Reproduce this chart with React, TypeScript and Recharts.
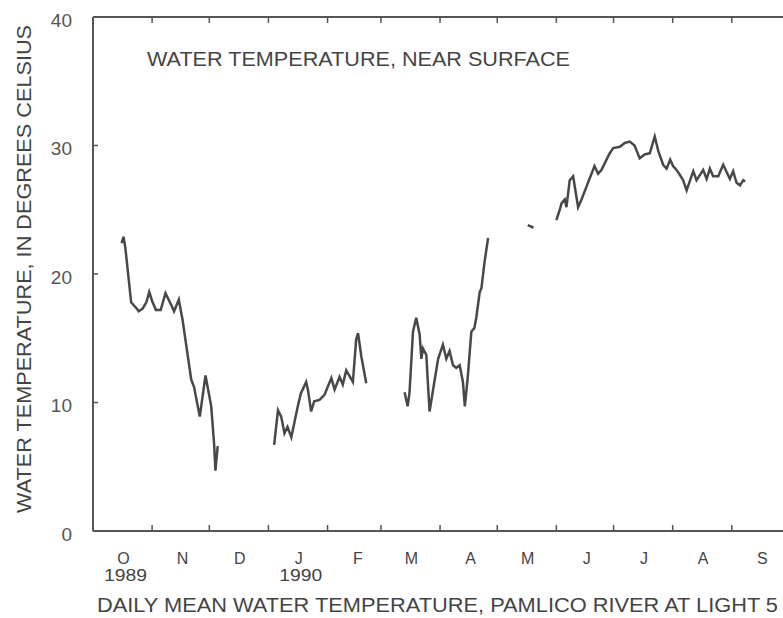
import { LineChart, Line, XAxis, YAxis } from "recharts";

const MONTHS = ["O", "N", "D", "J", "F", "M", "A", "M", "J", "J", "A", "S"];
const MONTH_START = [0, 31, 61, 92, 123, 151, 182, 212, 243, 273, 304, 335, 365];
const YEAR_LABELS: Record<number, string> = { 0: "1989", 3: "1990" };
const Y_TICKS = [0, 10, 20, 30, 40];

// days counted from 1 Oct 1989, temperatures in deg C
const OCT_DEC_DAYS = [15, 16, 17, 20, 23, 24, 26, 28, 29.5, 31, 33, 35.5, 38, 41, 42.5, 45, 47, 51.5, 53, 56, 59, 62, 63.5, 64.2, 65.4];
const OCT_DEC_TEMPS = [22.4, 22.9, 22.0, 17.8, 17.3, 17.1, 17.3, 17.8, 18.6, 17.9, 17.2, 17.2, 18.5, 17.6, 17.1, 18.0, 16.4, 11.8, 11.2, 8.9, 12.1, 9.7, 6.8, 4.7, 6.6];

const JAN_FEB_DAYS = [95, 97, 98.7, 100.4, 102, 104, 105.7, 107.4, 109, 111.8, 112.7, 114.4, 116, 118.8, 121.4, 125, 126.7, 129.3, 131, 132.8, 136.3, 138, 139, 140.7, 143.3];
const JAN_FEB_TEMPS = [6.7, 9.4, 8.9, 7.6, 8.1, 7.3, 8.5, 9.7, 10.7, 11.6, 11.0, 9.3, 10.1, 10.2, 10.6, 11.9, 11.0, 12.0, 11.4, 12.5, 11.6, 14.9, 15.4, 13.6, 11.5];

const MAR_APR_DAYS = [163.4, 165, 166, 167.8, 169.5, 171.3, 172.2, 173, 174.8, 175.6, 176.5, 179, 181, 183.5, 185.3, 187, 188.8, 190.5, 192.3, 194, 195, 196.6, 198.4, 200, 201, 202.8, 203.7, 205.4, 207.2];
const MAR_APR_TEMPS = [10.8, 9.7, 10.8, 15.5, 16.6, 15.3, 13.4, 14.2, 13.7, 11.6, 9.3, 11.6, 13.4, 14.5, 13.4, 14.0, 12.9, 12.7, 12.9, 11.6, 9.7, 12.1, 15.5, 15.8, 16.6, 18.6, 18.9, 21.0, 22.8];

const MAY_DAYS = [228, 229.5, 231];
const MAY_TEMPS = [23.8, 23.7, 23.6];

const JUN_SEP_DAYS = [243, 244.8, 245.7, 247.4, 248.3, 250, 251.8, 254.4, 256.2, 258.8, 263, 264.9, 266.7, 269.3, 271, 272.8, 276.3, 278.9, 281.5, 284, 286.7, 289.3, 292, 294.6, 296.4, 299, 300.8, 302.7, 304.2, 306, 307.8, 309.5, 311.3, 314.8, 316.5, 320, 321.8, 323.5, 325.2, 327.9, 330.5, 334, 335.7, 337.5, 339.3, 341, 342];
const JUN_SEP_TEMPS = [24.2, 25.0, 25.5, 25.8, 25.2, 27.3, 27.6, 25.2, 25.8, 26.8, 28.4, 27.8, 28.1, 28.9, 29.4, 29.8, 29.9, 30.2, 30.3, 30.0, 29.0, 29.3, 29.4, 30.7, 29.6, 28.5, 28.2, 28.9, 28.4, 28.1, 27.7, 27.3, 26.5, 28.0, 27.3, 28.1, 27.4, 28.2, 27.6, 27.6, 28.5, 27.4, 28.0, 27.1, 26.9, 27.3, 27.2];

const SEGMENTS = [
  [OCT_DEC_DAYS, OCT_DEC_TEMPS],
  [JAN_FEB_DAYS, JAN_FEB_TEMPS],
  [MAR_APR_DAYS, MAR_APR_TEMPS],
  [MAY_DAYS, MAY_TEMPS],
  [JUN_SEP_DAYS, JUN_SEP_TEMPS],
];

// one table, with a null row between the record pieces so the line breaks
const data: { day: number; temp: number | null }[] = [];
SEGMENTS.forEach(([days, temps], i) => {
  if (i > 0) data.push({ day: (data[data.length - 1].day + days[0]) / 2, temp: null });
  days.forEach((d, j) => data.push({ day: d, temp: temps[j] }));
});

const FONT = "'Liberation Sans', Arial, Helvetica, sans-serif";
const INK = "#444";
const FRAME = "#555";

const labelTicks = MONTHS.map((_, i) => MONTH_START[i] + 17);
const edgeTicks = MONTH_START.slice(1, 12);
const bottomTicks = [...edgeTicks, ...labelTicks].sort((a, b) => a - b);

const BottomTick = (props: any) => {
  const { x, y, payload } = props;
  const v = payload.value;
  if (edgeTicks.includes(v)) {
    return <line x1={x} y1={y} x2={x} y2={y - 6} stroke={FRAME} strokeWidth={1.5} />;
  }
  const i = labelTicks.indexOf(v);
  const year = YEAR_LABELS[i];
  return (
    <g>
      <text x={x - 2} y={y + 33} textAnchor="middle" fontSize={16} fontFamily={FONT} fill={INK}>
        {MONTHS[i]}
      </text>
      {year && (
        <text x={x} y={y + 50} textAnchor="middle" fontSize={16} fontFamily={FONT} fill={INK} textLength={43} lengthAdjust="spacingAndGlyphs">
          {year}
        </text>
      )}
    </g>
  );
};

const TopTick = (props: any) => (
  <line x1={props.x} y1={props.y} x2={props.x} y2={props.y + 6} stroke={FRAME} strokeWidth={1.5} />
);

const LeftTick = (props: any) => {
  const { x, y, payload } = props;
  return (
    <g>
      <text x={x - 21} y={y + 3} textAnchor="end" dominantBaseline="central" fontSize={19} fontFamily={FONT} fill="#555">
        {payload.value}
      </text>
      <line x1={x} y1={y} x2={x + 5} y2={y} stroke={FRAME} strokeWidth={1.5} />
    </g>
  );
};

const RightTick = (props: any) => (
  <line x1={props.x} y1={props.y} x2={props.x - 6} y2={props.y} stroke={FRAME} strokeWidth={1.5} />
);

export default function App() {
  return (
    <div style={{ position: "fixed", left: 0, top: 0, width: 783, height: 618, overflow: "hidden", background: "#fff" }}>
      <div style={{ position: "relative", width: 800, height: 618 }}>
        <LineChart width={800} height={618} data={data} margin={{ top: 16, right: 10, bottom: 86, left: 0 }}>
          <XAxis
            xAxisId="bottom"
            dataKey="day"
            type="number"
            domain={[0, 365]}
            ticks={bottomTicks}
            interval={0}
            height={1}
            tickSize={0}
            tickMargin={0}
            tickLine={false}
            axisLine={{ stroke: FRAME, strokeWidth: 2 }}
            tick={<BottomTick />}
          />
          <XAxis
            xAxisId="top"
            orientation="top"
            dataKey="day"
            type="number"
            domain={[0, 365]}
            ticks={edgeTicks}
            interval={0}
            height={1}
            tickSize={0}
            tickMargin={0}
            tickLine={false}
            axisLine={{ stroke: FRAME, strokeWidth: 2 }}
            tick={<TopTick />}
          />
          <YAxis
            yAxisId="left"
            type="number"
            domain={[0, 40]}
            ticks={Y_TICKS}
            interval={0}
            width={93}
            tickSize={0}
            tickMargin={0}
            tickLine={false}
            axisLine={{ stroke: FRAME, strokeWidth: 2 }}
            tick={<LeftTick />}
          />
          <YAxis
            yAxisId="right"
            orientation="right"
            type="number"
            domain={[0, 40]}
            ticks={Y_TICKS.slice(1, 4)}
            interval={0}
            width={1}
            tickSize={0}
            tickMargin={0}
            tickLine={false}
            axisLine={{ stroke: FRAME, strokeWidth: 2 }}
            tick={<RightTick />}
          />
          <Line
            xAxisId="bottom"
            yAxisId="left"
            dataKey="temp"
            type="linear"
            stroke="#484848"
            strokeWidth={2.5}
            dot={false}
            connectNulls={false}
            isAnimationActive={false}
          />
        </LineChart>
        <svg width={800} height={618} style={{ position: "absolute", left: 0, top: 0, pointerEvents: "none" }}>
          <text x={147} y={66} fontSize={20} fontFamily={FONT} fill={INK} textLength={423} lengthAdjust="spacingAndGlyphs">
            WATER TEMPERATURE, NEAR SURFACE
          </text>
          <text
            transform="translate(31, 269) rotate(-90)"
            textAnchor="middle"
            fontSize={20}
            fontFamily={FONT}
            fill={INK}
            textLength={488}
            lengthAdjust="spacingAndGlyphs"
          >
            WATER TEMPERATURE, IN DEGREES CELSIUS
          </text>
          <text x={97} y={612} fontSize={20} fontFamily={FONT} fill={INK} textLength={681} lengthAdjust="spacingAndGlyphs">
            DAILY MEAN WATER TEMPERATURE, PAMLICO RIVER AT LIGHT 5
          </text>
        </svg>
      </div>
    </div>
  );
}
